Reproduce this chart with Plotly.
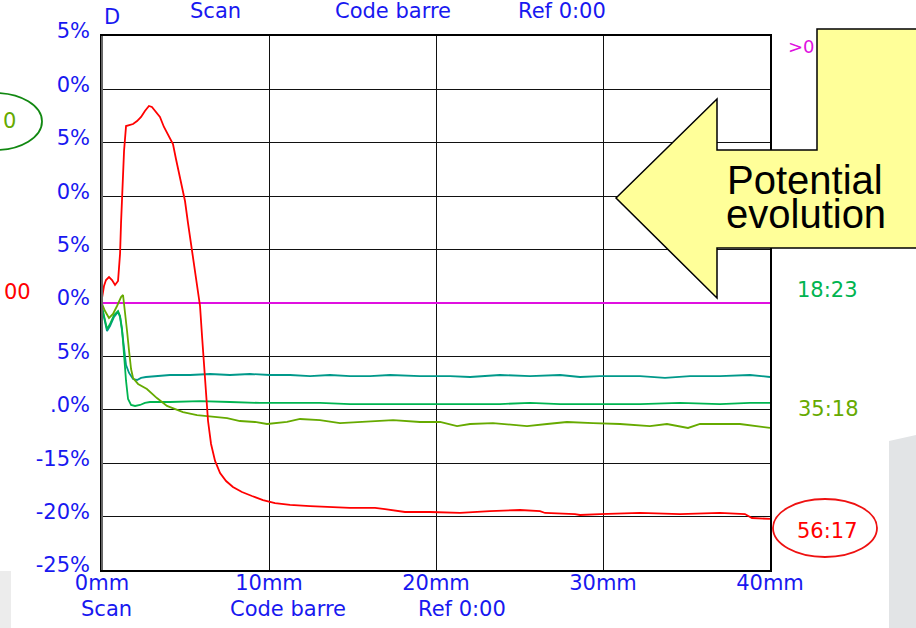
import plotly.graph_objects as go

# ---------------- data ----------------
x_ticks = [0, 10, 20, 30, 40]
x_tick_text = ["0mm", "10mm", "20mm", "30mm", "40mm"]
y_ticks = [-25, -20, -15, -10, -5, 0, 5, 10, 15, 20, 25]
y_tick_text = ["-25%", "-20%", "-15%", ".0%", "5%", "0%", "5%", "0%", "5%", "0%", "5%"]

ref_mm = [0, 40]
ref_pct = [0, 0]

red_mm = [0, 0.12, 0.24, 0.42, 0.6, 0.78, 0.96, 1.08, 1.14, 1.2, 1.26, 1.32, 1.44, 1.62, 1.86, 2.1,
          2.34, 2.57, 2.81, 2.99, 3.23, 3.47, 3.71, 4.01, 4.25, 4.43, 4.61, 4.79, 4.97, 5.15, 5.33,
          5.51, 5.69, 5.87, 5.99, 6.11, 6.23, 6.35, 6.53, 6.77, 7.07, 7.43, 7.84, 8.38, 8.98, 9.64,
          10.36, 11.26, 12.46, 13.65, 14.85, 16.35, 16.95, 18.14, 19.64, 21.44, 23.23, 25.03, 26.23,
          26.53, 28.32, 28.62, 29.82, 32.22, 34.61, 37.0, 38.5, 38.92, 40]
red_pct = [0.47, 1.59, 2.15, 2.43, 2.15, 1.69, 2.06, 4.59, 7.49, 9.55, 11.42, 14.23, 16.57, 16.67,
           16.76, 17.04, 17.42, 17.98, 18.45, 18.35, 17.88, 17.42, 16.48, 15.64, 14.89, 13.48, 12.17,
           10.67, 9.55, 7.49, 5.62, 3.46, 1.69, -0.28, -3.09, -5.9, -8.71, -11.05, -13.2, -14.79,
           -15.92, -16.67, -17.23, -17.7, -18.07, -18.45, -18.73, -18.91, -19.01, -19.1, -19.19,
           -19.19, -19.29, -19.57, -19.57, -19.66, -19.48, -19.38, -19.48, -19.66, -19.76, -19.85,
           -19.76, -19.66, -19.76, -19.66, -19.76, -20.13, -20.22]

teal_mm = [0, 0.12, 0.3, 0.48, 0.72, 0.96, 1.08, 1.2, 1.32, 1.44, 1.62, 1.86, 2.1, 2.34, 2.63, 3.17,
           4.07, 5.27, 6.47, 7.66, 8.86, 10.06, 11.26, 12.46, 13.65, 14.85, 16.05, 17.25, 19.04, 20.84,
           22.04, 23.83, 25.63, 27.43, 28.62, 29.82, 32.22, 33.71, 35.21, 37.0, 38.8, 40]
teal_pct = [-0.47, -1.31, -2.62, -2.15, -1.31, -0.84, -1.31, -2.62, -4.49, -5.81, -6.55, -7.12, -7.21,
            -7.02, -6.93, -6.84, -6.74, -6.74, -6.65, -6.74, -6.65, -6.74, -6.74, -6.84, -6.74, -6.84,
            -6.84, -6.74, -6.84, -6.84, -6.93, -6.74, -6.84, -6.74, -6.93, -6.84, -6.84, -7.02, -6.84,
            -6.84, -6.74, -6.93]

green_mm = [0, 0.12, 0.3, 0.48, 0.72, 0.96, 1.08, 1.2, 1.32, 1.44, 1.56, 1.74, 1.98, 2.28, 2.57, 2.87,
            4.07, 5.87, 7.66, 9.46, 11.26, 13.05, 14.85, 16.65, 18.44, 20.24, 22.04, 23.83, 25.63,
            27.43, 29.82, 32.22, 34.61, 37.0, 38.8, 40]
green_pct = [-0.37, -1.12, -2.43, -1.97, -1.12, -0.75, -1.22, -2.43, -4.96, -7.3, -8.99, -9.55, -9.64,
             -9.55, -9.36, -9.27, -9.27, -9.18, -9.27, -9.36, -9.36, -9.36, -9.46, -9.46, -9.46, -9.46,
             -9.46, -9.46, -9.36, -9.46, -9.46, -9.46, -9.36, -9.46, -9.36, -9.36]

olive_mm = [0, 0.18, 0.42, 0.66, 0.9, 1.14, 1.26, 1.38, 1.5, 1.62, 1.74, 1.86, 2.16, 2.69, 3.29, 3.89,
            4.85, 5.69, 6.65, 7.49, 8.26, 9.16, 9.88, 11.08, 11.86, 13.05, 14.25, 15.45, 17.43, 19.04,
            20.24, 21.26, 22.04, 23.41, 25.45, 26.65, 27.84, 29.4, 31.02, 32.81, 33.83, 35.09, 35.81,
            38.2, 40]
olive_pct = [-0.09, -0.75, -1.4, -1.03, -0.28, 0.56, 0.75, -0.75, -2.62, -4.49, -6.18, -7.02, -7.58,
             -8.05, -8.9, -9.64, -10.21, -10.49, -10.67, -10.77, -11.05, -11.14, -11.33, -11.14, -10.86,
             -10.96, -11.24, -11.14, -10.96, -11.14, -11.14, -11.52, -11.33, -11.24, -11.52, -11.33,
             -11.14, -11.24, -11.33, -11.52, -11.33, -11.7, -11.33, -11.33, -11.7]

# ---------------- layout geometry ----------------
W, H = 916, 628
L, R, T, B = 102, 770, 36, 570          # plot area in pixels


def px(xp):
    return (xp - L) / (R - L)


def py(yp):
    return (B - yp) / (B - T)


BLUE = "#1818f0"
FONT = "DejaVu Sans"
FS = 21

fig = go.Figure()
fig.add_trace(go.Scatter(x=ref_mm, y=ref_pct, mode="lines", line=dict(color="#e010e0", width=2.2)))
fig.add_trace(go.Scatter(x=teal_mm, y=teal_pct, mode="lines", line=dict(color="#00998a", width=1.8)))
fig.add_trace(go.Scatter(x=green_mm, y=green_pct, mode="lines", line=dict(color="#00b450", width=1.8)))
fig.add_trace(go.Scatter(x=olive_mm, y=olive_pct, mode="lines", line=dict(color="#66aa00", width=1.8)))
fig.add_trace(go.Scatter(x=red_mm, y=red_pct, mode="lines", line=dict(color="#ff0000", width=1.8)))

fig.update_layout(
    width=W, height=H,
    margin=dict(l=L, r=W - R, t=T, b=H - B),
    paper_bgcolor="white", plot_bgcolor="white",
    showlegend=False,
    font=dict(family=FONT, color=BLUE, size=FS),
)
fig.update_xaxes(range=[0, 40], tickvals=x_ticks, ticktext=x_tick_text, showgrid=True,
                 gridcolor="#111111", gridwidth=1, zeroline=False, showline=True, mirror=True,
                 linecolor="black", linewidth=2, ticks="", ticklen=0, ticklabelstandoff=-7,
                 tickfont=dict(size=FS, color=BLUE, family=FONT))
fig.update_yaxes(range=[-25, 25], tickvals=y_ticks, ticktext=y_tick_text, showgrid=True,
                 gridcolor="#111111", gridwidth=1, zeroline=False, showline=True, mirror=True,
                 linecolor="black", linewidth=1.5, ticks="", ticklen=0, ticklabelshift=-5,
                 ticklabelstandoff=6, tickfont=dict(size=FS, color=BLUE, family=FONT))

shapes = []
# slide background grey pieces
shapes.append(dict(type="rect", xref="paper", yref="paper", x0=px(0), x1=px(11), y0=py(628), y1=py(571),
                   fillcolor="#ececec", line=dict(width=0), layer="below"))
shapes.append(dict(type="path", xref="paper", yref="paper",
                   path=f"M {px(889)},{py(441)} L {px(916)},{py(435)} L {px(916)},{py(628)} L {px(889)},{py(628)} Z",
                   fillcolor="#e2e4e6", line=dict(width=0), layer="below"))
# grey left axis line
shapes.append(dict(type="line", xref="paper", yref="paper", x0=0, x1=0, y0=0, y1=1,
                   line=dict(color="#666666", width=2)))
# arrow callout
pts = [(616, 198), (717, 99), (717, 150), (817, 150), (817, 29), (930, 29), (930, 248),
       (717, 248), (717, 298)]
path = "M " + " L ".join(f"{px(a)},{py(b)}" for a, b in pts) + " Z"
shapes.append(dict(type="path", xref="paper", yref="paper", path=path, fillcolor="#ffff99",
                   line=dict(color="black", width=1.5), layer="above"))
# ellipses
shapes.append(dict(type="circle", xref="paper", yref="paper", x0=px(-52), x1=px(42), y0=py(150), y1=py(93),
                   line=dict(color="#118811", width=1.8)))
shapes.append(dict(type="circle", xref="paper", yref="paper", x0=px(773), x1=px(877), y0=py(557), y1=py(499),
                   line=dict(color="#ee1111", width=1.8)))
fig.update_layout(shapes=shapes)


def label(text, x, y, color=BLUE, size=FS, family=FONT, height=None):
    kw = {}
    if height is not None:
        kw["height"] = height
    fig.add_annotation(text=text, xref="paper", yref="paper", x=px(x), y=py(y), showarrow=False,
                       xanchor="center", yanchor="middle", font=dict(color=color, size=size, family=family),
                       **kw)


# top header (partially cut)
label("D", 112, 17)
label("Scan", 215, 11)
label("Code barre", 393, 11)
label("Ref 0:00", 562, 11)
# bottom footer
label("Scan", 106, 609)
label("Code barre", 288, 609)
label("Ref 0:00", 462, 609)
# left side fragments
label("0", 9, 121, color="#66aa00")
label("00", 17, 292, color="#ff0000")
# right side labels
label(">0", 801, 46, color="#e010e0", size=18)
label("18:23", 827, 290, color="#00b450")
label("35:18", 828, 409, color="#66aa00")
label("56:17", 827, 531, color="#ff0000")
# callout text
label("Potential", 805, 180, color="black", size=40, family="Liberation Sans", height=34)
label("evolution", 806, 214, color="black", size=40, family="Liberation Sans", height=34)

fig.write_html("out.html", config={"displayModeBar": False},
               post_script="document.body.style.margin='0';document.body.style.overflow='hidden';")
